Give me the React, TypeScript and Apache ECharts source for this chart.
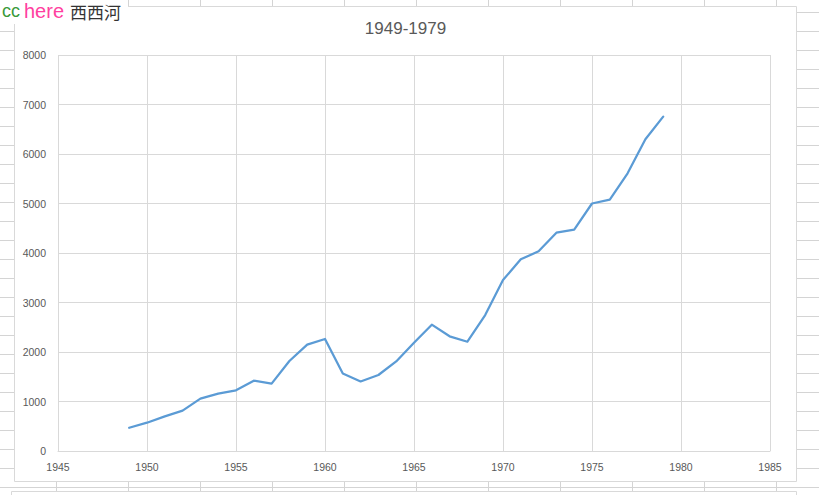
import React, { useEffect, useRef } from "react";
import * as echarts from "echarts";

const years: number[] = [
  1949, 1950, 1951, 1952, 1953, 1954, 1955, 1956, 1957, 1958, 1959, 1960, 1961, 1962, 1963, 1964,
  1965, 1966, 1967, 1968, 1969, 1970, 1971, 1972, 1973, 1974, 1975, 1976, 1977, 1978, 1979,
];
const values: number[] = [
  470, 572, 700, 815, 1057, 1158, 1225, 1421, 1360, 1818, 2148, 2263, 1565, 1405, 1535, 1810,
  2185, 2552, 2317, 2208, 2747, 3455, 3872, 4034, 4410, 4471, 5000, 5078, 5610, 6297, 6754,
];
const chartTitle = "1949-1979";
const watermarkParts = ["cc", "here", "西西河"];

export default function App() {
  const ref = useRef<HTMLDivElement>(null);

  useEffect(() => {
    if (!ref.current) return;
    const chart = echarts.init(ref.current, null, { renderer: "svg" });
    const sheetLine = "#d4d4d4";
    const graphics: any[] = [];
    const hl = (x1: number, x2: number, y: number) =>
      graphics.push({
        type: "line",
        silent: true,
        z: -100,
        shape: { x1, y1: y, x2, y2: y },
        style: { stroke: sheetLine, lineWidth: 1 },
      });
    const vl = (x: number, y1: number, y2: number) =>
      graphics.push({
        type: "line",
        silent: true,
        z: -100,
        shape: { x1: x, y1, x2: x, y2 },
        style: { stroke: sheetLine, lineWidth: 1 },
      });
    for (let k = 0; k <= 26; k++) {
      const y = 12.5 + 19 * k;
      hl(0, 14, y);
      hl(797, 819, y);
    }
    hl(0, 819, 487.5);
    for (let k = 0; k <= 10; k++) {
      const x = 56.5 + 72 * k;
      vl(x, 0, 6);
      vl(x, 482, 491);
    }
    graphics.push({
      type: "rect",
      silent: true,
      z: -90,
      shape: { x: 14.5, y: 6.5, width: 782, height: 475 },
      style: { fill: "#ffffff", stroke: "#d9d9d9", lineWidth: 1 },
    });
    graphics.push({
      type: "rect",
      silent: true,
      z: -90,
      shape: { x: 11.5, y: 491.5, width: 785, height: 40 },
      style: { fill: "#ffffff", stroke: "#d9d9d9", lineWidth: 1 },
    });
    graphics.push({
      type: "rect",
      silent: true,
      z: -80,
      shape: { x: 0, y: 0, width: 128, height: 24 },
      style: { fill: "#ffffff" },
    });
    const wmY = 11;
    graphics.push({
      type: "text",
      z: 10,
      x: 2,
      y: wmY,
      style: {
        text: watermarkParts[0],
        verticalAlign: "middle",
        fill: "#3a9a3a",
        font: '18px "Liberation Sans", sans-serif',
      },
    });
    graphics.push({
      type: "text",
      z: 10,
      x: 24,
      y: wmY,
      style: {
        text: watermarkParts[1],
        verticalAlign: "middle",
        fill: "#ff3fa0",
        font: '20px "Liberation Sans", sans-serif',
      },
    });
    graphics.push({
      type: "text",
      z: 10,
      x: 70,
      y: wmY,
      style: {
        text: watermarkParts[2],
        verticalAlign: "middle",
        fill: "#333333",
        font: '17px "Noto Sans CJK SC", sans-serif',
      },
    });
    graphics.push({
      type: "text",
      z: 10,
      x: 405.5,
      y: 28,
      style: {
        text: chartTitle,
        align: "center",
        verticalAlign: "middle",
        fill: "#595959",
        font: '17px "Liberation Sans", sans-serif',
      },
    });

    const axisLabel = {
      color: "#595959",
      fontSize: 10.5,
      fontFamily: '"Liberation Sans", sans-serif',
      formatter: (v: number) => String(v),
    };

    chart.setOption({
      animation: false,
      backgroundColor: "#ffffff",
      graphic: { elements: graphics },
      grid: { left: 58, top: 55, width: 712, height: 396, containLabel: false },
      xAxis: {
        type: "value",
        min: 1945,
        max: 1985,
        interval: 5,
        axisLine: { show: true, lineStyle: { color: "#d9d9d9", width: 1 } },
        axisTick: { show: false },
        splitLine: { show: true, lineStyle: { color: "#d9d9d9", width: 1 } },
        axisLabel: { ...axisLabel, margin: 10 },
      },
      yAxis: {
        type: "value",
        min: 0,
        max: 8000,
        interval: 1000,
        axisLine: { show: false },
        axisTick: { show: false },
        splitLine: { show: true, lineStyle: { color: "#d9d9d9", width: 1 } },
        axisLabel: { ...axisLabel, margin: 12 },
      },
      series: [
        {
          type: "line",
          data: years.map((y, i) => [y, values[i]]),
          showSymbol: false,
          symbol: "none",
          lineStyle: { color: "#5b9bd5", width: 2.25, cap: "round", join: "round" },
          z: 5,
        },
      ],
    });
    return () => chart.dispose();
  }, []);

  return (
    <div
      ref={ref}
      style={{ position: "fixed", left: 0, top: 0, width: 819, height: 495 }}
    />
  );
}
